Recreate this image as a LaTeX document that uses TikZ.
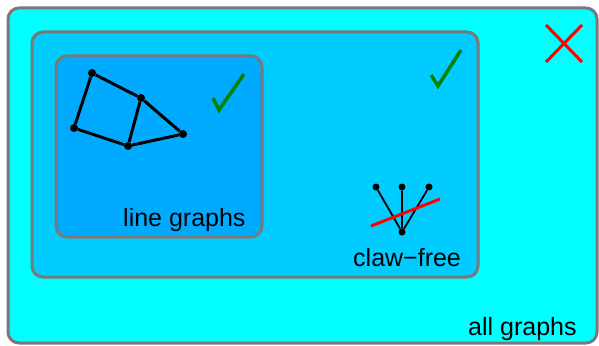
\documentclass[tikz,border=0pt]{standalone}
\usepackage{fontspec}
\setmainfont{Liberation Sans}
\begin{document}
\begin{tikzpicture}[x=1pt,y=-1pt,
  region/.style={draw=gray!95!black,line width=3pt,rounded corners=11pt},
  vert/.style={circle,fill=black,inner sep=0pt,minimum size=8pt},
  cvert/.style={circle,fill=black,inner sep=0pt,minimum size=7pt},
  edge/.style={line width=3pt},
  cedge/.style={line width=1.8pt},
  check/.style={draw=green!50!black,line width=3.5pt},
  cross/.style={draw=red,line width=3pt},
  lab/.style={anchor=base west,inner sep=0pt,font=\fontsize{25}{25}\selectfont}]
\useasboundingbox (0,0) rectangle (599,345);
\draw[region,fill={rgb,255:red,0;green,255;blue,255}] (8,8) rectangle (597,343);
\draw[region,fill={rgb,255:red,0;green,204;blue,255}] (32,32) rectangle (478,277);
\draw[region,fill={rgb,255:red,0;green,170;blue,255}] (56,56) rectangle (262,237);
% line graph example
\node[vert] (a) at (92,73) {};
\node[vert] (b) at (141,98) {};
\node[vert] (c) at (74,128) {};
\node[vert] (d) at (128,146) {};
\node[vert] (e) at (183,134) {};
\draw[edge] (a) -- (b) (a) -- (c) (c) -- (d) (b) -- (d) (b) -- (e) (d) -- (e);
% checks
\coordinate (k1) at (213,98); \coordinate (k2) at (219,110); \coordinate (k3) at (244,74);
\draw[check] (k1) -- (k2) -- (k3);
\coordinate (m1) at (431,75); \coordinate (m2) at (438,86); \coordinate (m3) at (461,50);
\draw[check] (m1) -- (m2) -- (m3);
% cross
\coordinate (x1) at (546,25); \coordinate (x2) at (582,62);
\coordinate (x3) at (582,25); \coordinate (x4) at (546,62);
\draw[cross] (x1) -- (x2) (x3) -- (x4);
% claw
\node[cvert] (t1) at (376,187) {};
\node[cvert] (t2) at (402,187) {};
\node[cvert] (t3) at (429,187) {};
\node[cvert] (t0) at (402,232) {};
\draw[cedge] (t0) -- (t1) (t0) -- (t2) (t0) -- (t3);
\coordinate (r1) at (371,226); \coordinate (r2) at (440,199);
\draw[cross] (r1) -- (r2);
% labels
\node[lab] (lg) at (123,226) {line graphs};
\node[lab] (cf) at (353,266) {claw\textminus free};
\node[lab] (ag) at (468,335) {all graphs};
\end{tikzpicture}
\end{document}
